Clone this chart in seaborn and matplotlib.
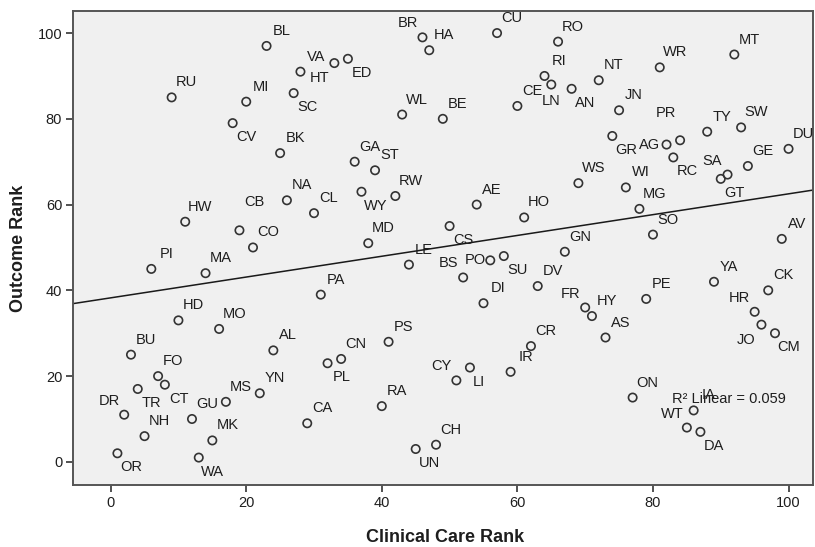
import numpy as np
import pandas as pd
import matplotlib
matplotlib.use("Agg")
import matplotlib.pyplot as plt
import seaborn as sns

# county codes with their clinical care rank and health outcome rank
labels = ["BL", "RU", "MI", "CV", "BK", "HT", "SC", "VA", "ED", "BR",
          "HA", "CU", "WL", "BE", "CE", "GA", "ST", "RI", "LN", "RO",
          "AN", "NT", "WR", "MT", "JN", "PR", "AG", "GR", "TY", "SW",
          "DU", "GE", "RC", "SA", "GT", "WS", "WI", "MG", "SO", "AV",
          "GN", "YA", "CK", "HR", "JO", "CM", "PE", "FR", "HY", "AS",
          "DV", "ON", "IA", "WT", "DA", "NA", "CL", "HW", "CB", "CO",
          "PI", "MA", "HD", "MO", "WY", "RW", "AE", "HO", "MD", "CS",
          "LE", "BS", "PO", "SU", "DI", "PA", "BU", "FO", "CT", "TR",
          "DR", "NH", "OR", "GU", "MS", "YN", "AL", "MK", "WA", "CA",
          "PS", "CN", "PL", "RA", "CY", "LI", "IR", "CR", "CH", "UN"]
clinical_care_rank = [23, 9, 20, 18, 25, 28, 27, 33, 35, 46,
                      47, 57, 43, 49, 60, 36, 39, 64, 65, 66,
                      68, 72, 81, 92, 75, 84, 82, 74, 88, 93,
                      100, 94, 83, 91, 90, 69, 76, 78, 80, 99,
                      67, 89, 97, 95, 96, 98, 79, 70, 71, 73,
                      63, 77, 86, 85, 87, 26, 30, 11, 19, 21,
                      6, 14, 10, 16, 37, 42, 54, 61, 38, 50,
                      44, 52, 56, 58, 55, 31, 3, 7, 8, 4,
                      2, 5, 1, 12, 17, 22, 24, 15, 13, 29,
                      41, 34, 32, 40, 51, 53, 59, 62, 48, 45]
outcome_rank = [97, 85, 84, 79, 72, 91, 86, 93, 94, 99,
                96, 100, 81, 80, 83, 70, 68, 90, 88, 98,
                87, 89, 92, 95, 82, 75, 74, 76, 77, 78,
                73, 69, 71, 67, 66, 65, 64, 59, 53, 52,
                49, 42, 40, 35, 32, 30, 38, 36, 34, 29,
                41, 15, 12, 8, 7, 61, 58, 56, 54, 50,
                45, 44, 33, 31, 63, 62, 60, 57, 51, 55,
                46, 43, 47, 48, 37, 39, 25, 20, 18, 17,
                11, 6, 2, 10, 14, 16, 26, 5, 1, 9,
                28, 24, 23, 13, 19, 22, 21, 27, 4, 3]

df = pd.DataFrame({"label": labels,
                   "Clinical Care Rank": clinical_care_rank,
                   "Outcome Rank": outcome_rank})

# where each label sits relative to its point (pixels); default is up-right
UR, LR, UL, LL = (15, 15), (14, -14), (-15, 14), (-15, -15)
label_pos = {"CV": LR, "HT": (19, -6), "SC": LR, "VA": (-18, 6), "ED": LR,
             "BR": UL, "LN": (0, -16), "AN": LR, "PR": (-14, 27),
             "AG": (-17, 0), "GR": LR, "RC": LR, "SA": UL, "GT": LR,
             "HR": UL, "JO": LL, "CM": LR, "FR": UL, "WT": UL, "DA": LR,
             "CB": (15, 28), "WY": LR, "CS": LR, "BS": UL, "PO": (-15, 0),
             "SU": LR, "CT": LR, "TR": LR, "DR": UL, "OR": LR, "WA": LR,
             "PL": LR, "CY": UL, "LI": (9, -14), "UN": LR}

sns.set_style("ticks")
plt.rcParams["font.family"] = ["Liberation Sans", "DejaVu Sans"]

fig = plt.figure(figsize=(8.15, 5.47), dpi=100)
ax = fig.add_axes([0.09, 0.1133, 0.9075, 0.867])
ax.set_facecolor("#f0f0f0")
ax.set_xlim(-5.5, 103.6)
ax.set_ylim(-5.4, 105.2)

sns.regplot(data=df, x="Clinical Care Rank", y="Outcome Rank", ax=ax,
            scatter=False, ci=None, truncate=False,
            line_kws=dict(color="#1a1a1a", lw=1.1))
sns.scatterplot(data=df, x="Clinical Care Rank", y="Outcome Rank", ax=ax,
                marker="o", s=36, facecolor="none", edgecolor="#333333",
                linewidth=1.2, zorder=3)

for lab, x, y in zip(labels, clinical_care_rank, outcome_rank):
    ax.annotate(lab, (x, y), xytext=label_pos.get(lab, UR),
                textcoords="offset pixels", ha="center", va="center",
                fontsize=10.5, color="#1e1e1e")

r2 = np.corrcoef(clinical_care_rank, outcome_rank)[0, 1] ** 2
ax.text(82.8, 14.6, "R² Linear = %.3f" % r2, ha="left", va="center",
        fontsize=10.5, color="#1e1e1e")

ax.set_xlim(-5.5, 103.6)
ax.set_ylim(-5.4, 105.2)
ax.set_xticks([0, 20, 40, 60, 80, 100])
ax.set_yticks([0, 20, 40, 60, 80, 100])
ax.tick_params(length=5, width=1.2, color="#333333", labelsize=10.5,
               labelcolor="#1e1e1e", pad=3)
for sp in ax.spines.values():
    sp.set_color("#555555")
    sp.set_linewidth(1.4)

ax.set_xlabel("Clinical Care Rank", fontsize=13, fontweight="bold", color="#1e1e1e")
ax.set_ylabel("Outcome Rank", fontsize=13, fontweight="bold", color="#1e1e1e")
ax.xaxis.set_label_coords(0.503, -0.093)
ax.yaxis.set_label_coords(-0.0626, 0.5)

fig.savefig("out.png", dpi=100)
